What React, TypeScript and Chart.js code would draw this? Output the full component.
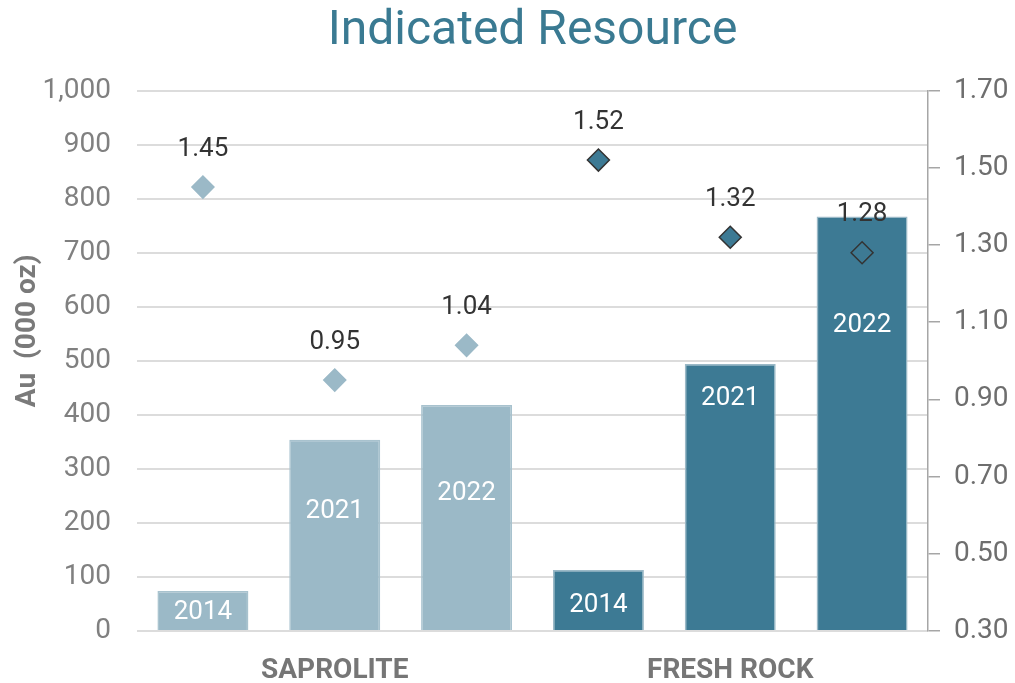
import React, { useEffect, useRef } from "react";
import { Chart, registerables } from "chart.js";

Chart.register(...registerables);

const categories = ["", "SAPROLITE", "", "", "FRESH ROCK", ""];
const years = ["2014", "2021", "2022", "2014", "2021", "2022"];
const ounces = [74, 354, 418, 113, 494, 767];
const grades = [1.45, 0.95, 1.04, 1.52, 1.32, 1.28];
// vertical position of the year text inside each bar, in axis units (000 oz)
const yearLabelPos = [35, 222, 254, 48, 430, 565];
const yAxisTitle = "Au  (000 oz)";

const LIGHT = "#9BB9C7";
const DARK = "#3D7A94";
const barColors = [LIGHT, LIGHT, LIGHT, DARK, DARK, DARK];
const barBorders = ["#A8C2CE", "#A8C2CE", "#A8C2CE", "#9BB9C7", "#9BB9C7", "#9BB9C7"];
const pointFills = [LIGHT, LIGHT, LIGHT, DARK, DARK, "rgba(255,255,255,0)"];
const pointBorders = [LIGHT, LIGHT, LIGHT, "#333333", "#333333", "#333333"];

const FONT = "Roboto, 'Noto Sans', sans-serif";

const labelPlugin = {
  id: "labels",
  afterDatasetsDraw(chart: any) {
    const ctx = chart.ctx;
    const yScale = chart.scales.y;
    const barMeta = chart.getDatasetMeta(0);
    const ptMeta = chart.getDatasetMeta(1);
    ctx.save();
    ctx.textAlign = "center";
    ctx.textBaseline = "middle";
    ctx.font = `400 26px ${FONT}`;
    ctx.fillStyle = "#ffffff";
    barMeta.data.forEach((bar: any, i: number) => {
      ctx.fillText(years[i], bar.x, yScale.getPixelForValue(yearLabelPos[i]));
    });
    ctx.fillStyle = "#333333";
    ptMeta.data.forEach((pt: any, i: number) => {
      ctx.fillText(grades[i].toFixed(2), pt.x, pt.y - 38);
    });
    // y-axis title
    const ca = chart.chartArea;
    ctx.translate(28, (ca.top + ca.bottom) / 2 - 30);
    ctx.rotate(-Math.PI / 2);
    ctx.font = `700 28px ${FONT}`;
    ctx.fillStyle = "#7A7A7A";
    ctx.fillText(yAxisTitle, 0, 0);
    ctx.restore();
  },
};

export default function App() {
  const ref = useRef<HTMLCanvasElement>(null);
  useEffect(() => {
    if (!ref.current) return;
    const chart = new Chart(ref.current, {
      type: "bar",
      data: {
        labels: categories,
        datasets: [
          {
            type: "bar",
            data: ounces,
            backgroundColor: barColors,
            borderColor: barBorders,
            borderWidth: 1.5,
            barPercentage: 0.69,
            categoryPercentage: 1,
            yAxisID: "y",
            order: 2,
          },
          {
            type: "line",
            data: grades,
            showLine: false,
            pointStyle: "rectRot",
            pointRadius: 11,
            pointBackgroundColor: pointFills,
            pointBorderColor: pointBorders,
            pointBorderWidth: 1.5,
            yAxisID: "y1",
            order: 1,
          } as any,
        ],
      },
      options: {
        animation: false,
        responsive: true,
        maintainAspectRatio: false,
        layout: { padding: 0 },
        plugins: {
          legend: { display: false },
          tooltip: { enabled: false },
          title: {
            display: true,
            fullSize: false,
            text: "Indicated Resource",
            color: "#3A7A92",
            font: { family: FONT, size: 48, weight: "normal" as any },
            padding: { top: 3, bottom: 30 },
          },
        },
        scales: {
          x: {
            grid: { display: false },
            border: { display: false },
            ticks: {
              autoSkip: false,
              maxRotation: 0,
              color: "#767676",
              font: { family: FONT, size: 28, weight: "bold" as any },
              padding: 15,
            },
            afterFit(scale: any) {
              scale.height = 52;
            },
          },
          y: {
            position: "left",
            min: 0,
            max: 1000,
            ticks: {
              stepSize: 100,
              color: "#808080",
              font: { family: FONT, size: 28 },
              padding: 26,
              callback: (v: any) => Number(v).toLocaleString("en-US"),
            },
            grid: { color: "#DCDCDC", lineWidth: 2, drawTicks: false },
            border: { display: false },
            afterFit(scale: any) {
              scale.width = 137;
            },
          },
          y1: {
            position: "right",
            min: 0.3,
            max: 1.7,
            ticks: {
              stepSize: 0.2,
              color: "#6E6E6E",
              font: { family: FONT, size: 28 },
              padding: 14,
              callback: (v: any) => Number(v).toFixed(2),
            },
            grid: { drawOnChartArea: false, drawTicks: true, tickLength: 12, color: "#A6A6A6", lineWidth: 1.5 },
            border: { display: true, color: "#A6A6A6", width: 1.5 },
            afterFit(scale: any) {
              scale.width = 87;
            },
          },
        },
      },
      plugins: [labelPlugin],
    });
    return () => chart.destroy();
  }, []);
  return (
    <div style={{ position: "fixed", left: 0, top: 0, width: 1015, height: 683, background: "#fff" }}>
      <canvas ref={ref} />
    </div>
  );
}
